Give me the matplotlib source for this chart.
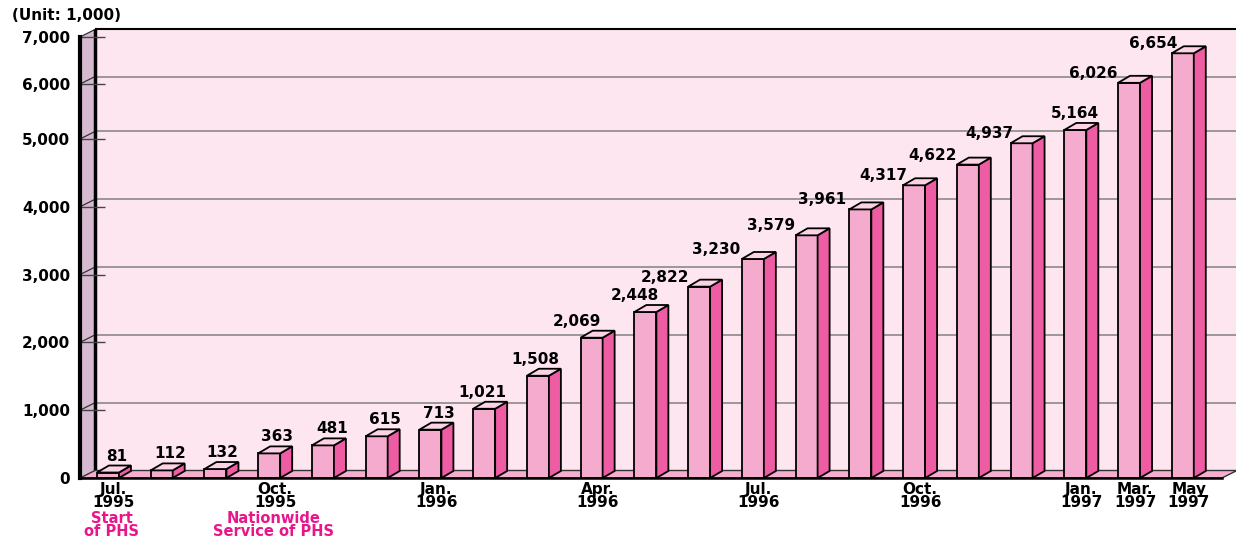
import numpy as np
import matplotlib
matplotlib.use("Agg")
import matplotlib.pyplot as plt
from matplotlib.patches import Polygon
from matplotlib.lines import Line2D
from matplotlib.transforms import IdentityTransform

# ---------------- data ----------------
values = [81, 112, 132, 363, 481, 615, 713, 1021, 1508, 2069, 2448,
          2822, 3230, 3579, 3961, 4317, 4622, 4937, 5164, 6026, 6654]
value_labels = [f"{v:,}" for v in values]
tick_pos = [0, 3, 6, 9, 12, 15, 18, 19, 20]
tick_labels = ["Jul.\n1995", "Oct.\n1995", "Jan.\n1996", "Apr.\n1996",
               "Jul.\n1996", "Oct.\n1996", "Jan.\n1997", "Mar.\n1997",
               "May\n1997"]
y_ticks = [0, 1000, 2000, 3000, 4000, 5000, 6000, 7000]
y_tick_labels = ["0", "1,000", "2,000", "3,000", "4,000", "5,000",
                 "6,000", "7,000"]
notes = [(0, "Start\nof PHS"), (3, "Nationwide\nService of PHS")]
unit_text = "(Unit: 1,000)"

# value-label horizontal shift (pixels) – annotation style
lbl_dx = [9, 9, 7, 8, 9, 8, 8, -2, -3, -15, -10, -34, -37, -36, -38,
          -31, -35, -32, 0, -36, -30]

# ---------------- style ----------------
BACK = "#fde6f0"
WALL = "#d6bad0"
FRONT = "#f5abcd"
SIDE = "#ee5ca3"
TOP = "#fbd3e4"
FLOOR = "#f5add0"
MAGENTA = "#e8168b"
BAR_W = 0.41
DXB, DYB = 12, 7     # bar depth (px)
DXW, DYW = 15, 7.5   # wall depth (px)
PT = 0.72            # px -> pt at 100 dpi

plt.rcParams["font.family"] = ["DejaVu Sans"]
plt.rcParams["font.weight"] = "bold"

W, H = 1236, 538
fig = plt.figure(figsize=(W / 100, H / 100), dpi=100)
fig.patch.set_facecolor("white")
ax = fig.add_axes([80 / W, 60 / H, 1142 / W, 441 / H])

# compressed top of the value scale, as in the original drawing
KV = [0, 5000, 6000, 7000]
KP = [0, 5000, 5810, 6504]
fwd = lambda v: np.interp(v, KV, KP)
inv = lambda p: np.interp(p, KP, KV)
ax.set_yscale("function", functions=(fwd, inv))
ax.set_xlim(-0.52, 20.73)
ax.set_ylim(0, 7000)
ax.set_autoscale_on(False)
ax.patch.set_visible(False)

for s in ("top", "right"):
    ax.spines[s].set_visible(False)
ax.spines["left"].set_linewidth(3)
ax.spines["bottom"].set_linewidth(1.8)
ax.spines["left"].set_zorder(6)
ax.spines["bottom"].set_zorder(6)

ax.set_yticks(y_ticks, y_tick_labels)
ax.tick_params(axis="y", direction="in", length=18, width=1,
               color="#444444", pad=7, labelsize=11)
ax.set_xticks([])

idt = IdentityTransform()
T = ax.transData
def P(x, y):
    return T.transform((x, y))

x0, x1 = ax.get_xlim()
bl = P(x0, 0)
tl = P(x0, 7000)
br = P(x1, 0)

def poly(pts, fc, ec="none", lw=0.0, z=1.0):
    ax.add_patch(Polygon(pts, closed=True, transform=idt, facecolor=fc,
                         edgecolor=ec, linewidth=lw, zorder=z, clip_on=False))

def line(xs, ys, c, lw, z):
    ax.add_line(Line2D(xs, ys, transform=idt, color=c, linewidth=lw,
                       zorder=z, clip_on=False, solid_capstyle="butt"))

# back wall
poly([[bl[0] + DXW, bl[1] + DYW], [br[0] + DXW, br[1] + DYW],
      [br[0] + DXW, tl[1] + DYW], [tl[0] + DXW, tl[1] + DYW]], BACK, z=0.5)
# gridlines on back wall
for t in y_ticks[1:-1]:
    y = P(x0, t)[1]
    line([bl[0] + DXW, br[0] + DXW], [y + DYW, y + DYW], "#8a8a8a", 1.2, 1.0)
# left wall
poly([[bl[0], bl[1]], [bl[0] + DXW, bl[1] + DYW],
      [tl[0] + DXW, tl[1] + DYW], [tl[0], tl[1]]], WALL, z=1.1)
for t in y_ticks[1:]:
    y = P(x0, t)[1]
    line([bl[0], bl[0] + DXW], [y, y + DYW], "#333333", 0.9, 1.2)
line([bl[0] + DXW, bl[0] + DXW], [bl[1] + DYW, tl[1] + DYW], "black", 2.5, 1.3)
line([bl[0] + DXW, br[0] + DXW], [tl[1] + DYW, tl[1] + DYW], "black", 1.5, 1.3)
# floor
poly([[bl[0], bl[1]], [br[0], br[1]], [br[0] + DXW, br[1] + DYW],
      [bl[0] + DXW, bl[1] + DYW]], FLOOR, ec="#333333", lw=1.0, z=1.5)

# bars
idx = np.arange(len(values))
ax.bar(idx, values, width=BAR_W, color=FRONT, edgecolor="black",
       linewidth=1.3, zorder=3)
hw = BAR_W / 2
for i, v in zip(idx, values):
    fl = P(i - hw, v)
    fr = P(i + hw, v)
    fb = P(i + hw, 0)
    poly([fb, fr, [fr[0] + DXB, fr[1] + DYB], [fb[0] + DXB, fb[1] + DYB]],
         SIDE, ec="black", lw=1.3, z=3.1)
    poly([fl, fr, [fr[0] + DXB, fr[1] + DYB], [fl[0] + DXB, fl[1] + DYB]],
         TOP, ec="black", lw=1.3, z=3.2)

# value labels
for i, v, lab, dx in zip(idx, values, value_labels, lbl_dx):
    dy = 12 if dx > -20 else 5
    ax.annotate(lab, xy=(i, v), xytext=(dx * PT, dy * PT),
                textcoords="offset points", ha="center", va="baseline",
                fontsize=11, fontweight="bold", color="black", zorder=7,
                annotation_clip=False)

# x labels
for p, lab in zip(tick_pos, tick_labels):
    ax.annotate(lab, xy=(p, 0), xytext=(6 * PT, -4 * PT),
                textcoords="offset points", ha="center", va="top",
                fontsize=11, fontweight="bold", linespacing=0.82,
                annotation_clip=False)

# notes in magenta
for p, lab in notes:
    ax.annotate(lab, xy=(p, 0), xytext=(4 * PT, -33 * PT),
                textcoords="offset points", ha="center", va="top",
                fontsize=10.5, fontweight="bold", color=MAGENTA,
                linespacing=0.85, annotation_clip=False)

fig.text(12 / W, 1 - 16 / H, unit_text, ha="left", va="center",
         fontsize=11, fontweight="bold")

fig.savefig("out.png", dpi=100, facecolor="white")
